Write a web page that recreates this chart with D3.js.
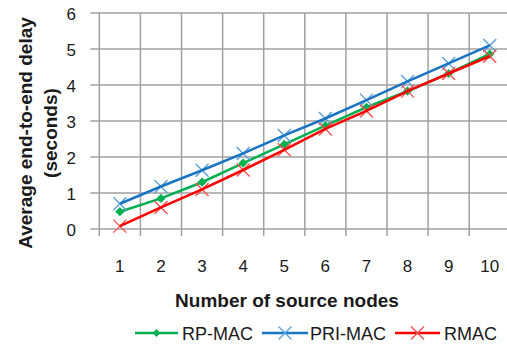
<!DOCTYPE html>
<html>
<head>
<meta charset="utf-8">
<script src="https://cdn.jsdelivr.net/npm/d3@7"></script>
<style>
  html, body { margin: 0; padding: 0; background: #fff; }
  svg { display: block; }
  text { font-family: "Liberation Sans", Arial, sans-serif; fill: #1a1a1a; }
</style>
</head>
<body>
<svg id="chart" width="507" height="349"></svg>
<script>
// Number of source nodes (x categories)
const categories = [1, 2, 3, 4, 5, 6, 7, 8, 9, 10];
// Average end-to-end delay in seconds, one array per protocol
const rpMac  = [0.48, 0.85, 1.30, 1.83, 2.35, 2.87, 3.38, 3.83, 4.32, 4.86];
const priMac = [0.70, 1.18, 1.63, 2.10, 2.60, 3.07, 3.58, 4.10, 4.60, 5.10];
const rmac   = [0.08, 0.60, 1.10, 1.64, 2.20, 2.78, 3.28, 3.83, 4.32, 4.80];
const yTicks = [0, 1, 2, 3, 4, 5, 6];
const seriesNames = ["RP-MAC", "PRI-MAC", "RMAC"];

const series = [
  { name: seriesNames[0], values: rpMac,  color: "#00b050", marker: "diamond", markColor: "#00b050" },
  { name: seriesNames[1], values: priMac, color: "#1a74c4", marker: "cross",   markColor: "#5aa0dc" },
  { name: seriesNames[2], values: rmac,   color: "#ff0000", marker: "cross",   markColor: "#ff5050" }
];

const svg = d3.select("#chart");
const plotLeft = 99.3, plotRight = 510.3, plotTop = 13, plotBottom = 229;

const x = d3.scaleBand().domain(categories).range([plotLeft, plotRight]).padding(0);
const y = d3.scaleLinear().domain([0, 6]).range([plotBottom, plotTop]);

const grid = svg.append("g");
// horizontal gridlines (with outward ticks on the left)
grid.selectAll("line.h").data(yTicks).join("line")
  .attr("x1", plotLeft - 9).attr("x2", plotRight)
  .attr("y1", d => y(d)).attr("y2", d => y(d))
  .attr("stroke", "#a0a0a0").attr("stroke-width", 1.5);
// vertical gridlines at category boundaries (with ticks below the axis)
const bounds = categories.map(c => x(c)).concat([plotRight]);
grid.selectAll("line.v").data(bounds).join("line")
  .attr("x1", d => d).attr("x2", d => d)
  .attr("y1", plotTop).attr("y2", plotBottom + 7)
  .attr("stroke", "#a0a0a0").attr("stroke-width", 1.5);

// y tick labels
svg.append("g").selectAll("text").data(yTicks).join("text")
  .attr("x", 76).attr("y", d => y(d) + 1.5)
  .attr("text-anchor", "end").attr("dominant-baseline", "central")
  .attr("font-size", 17).text(d => d);

// x tick labels
svg.append("g").selectAll("text").data(categories).join("text")
  .attr("x", d => x(d) + x.bandwidth() / 2).attr("y", 266)
  .attr("text-anchor", "middle").attr("dominant-baseline", "central")
  .attr("font-size", 17).text(d => d);

// axis titles
svg.append("text")
  .attr("x", 287).attr("y", 300)
  .attr("text-anchor", "middle").attr("dominant-baseline", "central")
  .attr("font-size", 19).attr("font-weight", "bold")
  .text("Number of source nodes");

const yTitle = svg.append("g").attr("transform", "translate(0,133) rotate(-90)");
yTitle.append("text").attr("x", 0).attr("y", 25)
  .attr("text-anchor", "middle").attr("dominant-baseline", "central")
  .attr("font-size", 19).attr("font-weight", "bold")
  .text("Average end-to-end delay");
yTitle.append("text").attr("x", 0).attr("y", 50)
  .attr("text-anchor", "middle").attr("dominant-baseline", "central")
  .attr("font-size", 19).attr("font-weight", "bold")
  .text("(seconds)");

function drawMarker(g, s, cx, cy, scale) {
  if (s.marker === "diamond") {
    const r = 4.6 * scale;
    g.append("path")
      .attr("d", `M${cx},${cy - r}L${cx + r},${cy}L${cx},${cy + r}L${cx - r},${cy}Z`)
      .attr("fill", s.markColor);
  } else {
    const r = 6.5 * scale;
    g.append("path")
      .attr("d", `M${cx - r},${cy - r}L${cx + r},${cy + r}M${cx - r},${cy + r}L${cx + r},${cy - r}`)
      .attr("stroke", s.markColor).attr("stroke-width", 1.4).attr("fill", "none");
  }
}

const line = d3.line()
  .x((d, i) => x(categories[i]) + x.bandwidth() / 2)
  .y(d => y(d));

series.forEach(s => {
  const g = svg.append("g");
  if (s.marker !== "diamond") {
    s.values.forEach((v, i) => drawMarker(g, s, x(categories[i]) + x.bandwidth() / 2, y(v), 1));
  }
  g.append("path").datum(s.values)
    .attr("d", line).attr("fill", "none")
    .attr("stroke", s.color).attr("stroke-width", 2.6);
  if (s.marker === "diamond") {
    s.values.forEach((v, i) => drawMarker(g, s, x(categories[i]) + x.bandwidth() / 2, y(v), 1));
  }
});

// legend
const legendItems = [
  { s: series[0], x1: 135, x2: 178, tx: 182 },
  { s: series[1], x1: 262, x2: 308, tx: 310 },
  { s: series[2], x1: 395, x2: 440, tx: 444 }
];
const lg = svg.append("g");
legendItems.forEach(it => {
  const ly = 333;
  lg.append("line").attr("x1", it.x1).attr("x2", it.x2).attr("y1", ly).attr("y2", ly)
    .attr("stroke", it.s.color).attr("stroke-width", 2.6);
  drawMarker(lg, it.s, (it.x1 + it.x2) / 2, ly, it.s.marker === "diamond" ? 0.85 : 1);
  lg.append("text").attr("x", it.tx).attr("y", ly + 1)
    .attr("dominant-baseline", "central").attr("font-size", 18)
    .text(it.s.name);
});
</script>
</body>
</html>
